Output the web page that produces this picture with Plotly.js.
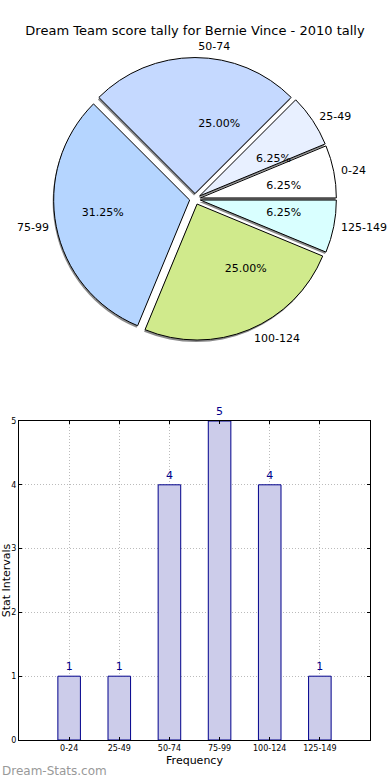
<!DOCTYPE html>
<html>
<head>
<meta charset="utf-8">
<script src="https://cdn.plot.ly/plotly-3.0.1.min.js"></script>
<style>html,body{margin:0;padding:0;background:#fff}#chart{width:390px;height:780px}</style>
</head>
<body>
<div id="chart"></div>
<script>
const categories = ['0-24', '25-49', '50-74', '75-99', '100-124', '125-149'];
const counts = [1, 1, 4, 5, 4, 1];
const sliceColors = ['#ffffff', '#e8f0ff', '#c5d9ff', '#b5d5ff', '#d0ea8c', '#d9ffff'];
const titleText = 'Dream Team score tally for Bernie Vince - 2010 tally';

const FONT = 'DejaVu Sans, sans-serif';
const W = 390, H = 780;
// pie geometry (pixels)
const cx = 195, cy = 199, R = 136, PULL = 0.04;
const ROT = 67.5;
function dom(r, pull, dx, dy) {
  const half = r * (1 + pull);
  return {x: [(cx + dx - W / 2) / W, 1 + (cx + dx - W / 2) / W],
          y: [(H - (cy + dy) - half) / H, (H - (cy + dy) + half) / H]};
}
function pulls(p) { return categories.map(() => p); }
const clear = categories.map(() => 'rgba(0,0,0,0)');

const shadow = {
  type: 'pie', labels: categories, values: counts, sort: false,
  direction: 'counterclockwise', rotation: ROT, pull: pulls(PULL),
  marker: {colors: categories.map(() => 'rgba(110,110,110,0.8)'), line: {width: 0}},
  textinfo: 'none', hoverinfo: 'skip', showlegend: false,
  domain: dom(R, PULL, -2, 2)
};
const pie = {
  type: 'pie', labels: categories, values: counts, sort: false,
  direction: 'counterclockwise', rotation: ROT, pull: pulls(PULL),
  marker: {colors: sliceColors, line: {color: '#000', width: 1}},
  textinfo: 'none', showlegend: false, domain: dom(R, PULL, 0, 0)
};
// percentages placed around 0.6 R
const rP = 0.47 * R, pullP = PULL * R / rP;
const piePct = {
  type: 'pie', labels: categories, values: counts, sort: false,
  direction: 'counterclockwise', rotation: ROT, pull: pulls(pullP),
  marker: {colors: clear, line: {width: 0}},
  texttemplate: '%{percent:.2%}', textposition: 'outside',
  outsidetextfont: {family: FONT, size: 11, color: '#000'},
  hoverinfo: 'skip', showlegend: false, domain: dom(rP, pullP, 0, 0)
};
// category labels just outside the pie
const rL = 1.03 * R, pullL = PULL * R / rL;
const pieLabels = {
  type: 'pie', labels: categories, values: counts, sort: false,
  direction: 'counterclockwise', rotation: ROT, pull: pulls(pullL),
  marker: {colors: clear, line: {width: 0}},
  textinfo: 'label', textposition: 'outside',
  outsidetextfont: {family: FONT, size: 11, color: '#000'},
  hoverinfo: 'skip', showlegend: false, domain: dom(rL, pullL, 0, 0)
};

const bars = {
  type: 'bar', x: categories, y: counts, width: 0.45,
  marker: {color: '#ccccea', line: {color: '#00008b', width: 1}},
  text: counts.map(String), textposition: 'outside', cliponaxis: false,
  textfont: {family: FONT, size: 11, color: '#00008b'},
  xaxis: 'x', yaxis: 'y', showlegend: false
};

const layout = {
  width: W, height: H, margin: {l: 0, r: 0, t: 0, b: 0},
  paper_bgcolor: '#fff', plot_bgcolor: '#fff',
  font: {family: FONT, size: 11, color: '#000'},
  title: {text: titleText, x: 0.5, xanchor: 'center', y: 1 - 30 / H, yanchor: 'middle',
          font: {family: FONT, size: 13, color: '#000'}},
  xaxis: {
    domain: [19 / W, 370 / W], anchor: 'y', type: 'category', range: [-1, 6],
    showline: true, linecolor: '#000', linewidth: 1, mirror: 'ticks',
    ticks: 'inside', ticklen: 3, tickcolor: '#000',
    showgrid: true, gridcolor: '#bbb', griddash: '1px,2px', gridwidth: 1,
    tickfont: {family: FONT, size: 8, color: '#000'},
    title: {text: 'Frequency', font: {family: FONT, size: 11}, standoff: 4},
    zeroline: false, fixedrange: true
  },
  yaxis: {
    domain: [40 / H, 359 / H], anchor: 'x', range: [0, 5], dtick: 1,
    showline: true, linecolor: '#000', linewidth: 1, mirror: 'ticks',
    ticks: 'inside', ticklen: 3, tickcolor: '#000',
    showgrid: true, gridcolor: '#bbb', griddash: '1px,2px', gridwidth: 1,
    tickfont: {family: FONT, size: 8, color: '#000'},
    title: {text: 'Stat Intervals', font: {family: FONT, size: 11}, standoff: 2},
    zeroline: false, fixedrange: true
  },
  annotations: [{
    text: 'Dream-Stats.com', xref: 'paper', yref: 'paper', x: 0, y: 0,
    xanchor: 'left', yanchor: 'bottom', showarrow: false,
    font: {family: FONT, size: 12, color: '#999'}
  }]
};

Plotly.newPlot('chart', [shadow, pie, piePct, pieLabels, bars], layout, {displayModeBar: false, staticPlot: true});
</script>
</body>
</html>
